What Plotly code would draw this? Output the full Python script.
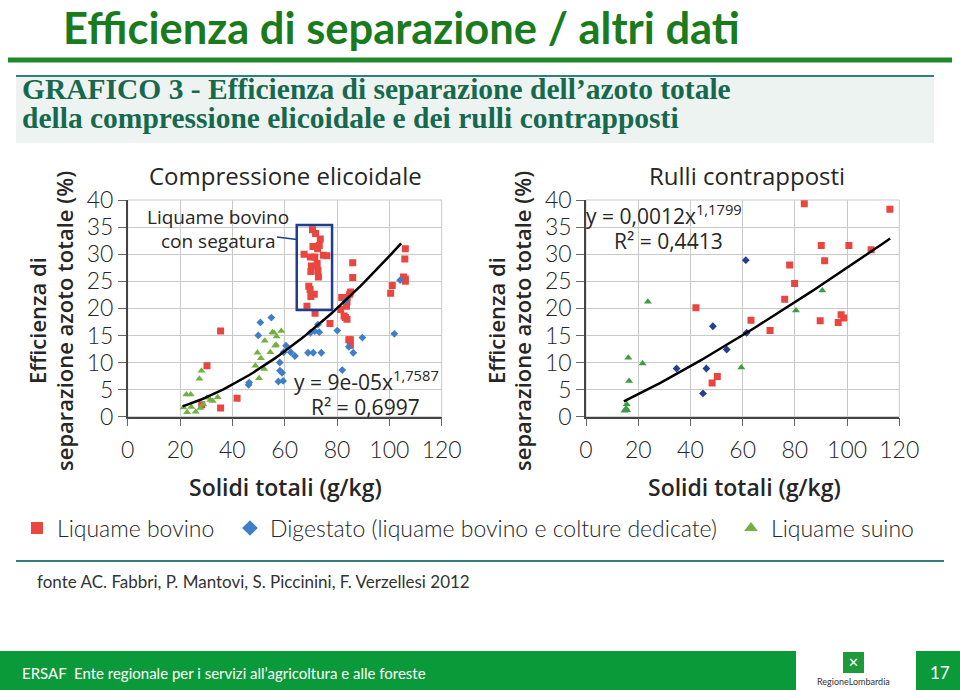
import plotly.graph_objects as go

# ---------------- data ----------------
# Left chart: Compressione elicoidale
L_bov_x = [70.6, 71.8, 73.6, 73.2, 70.8, 72.6, 67.4, 69.8, 71.5, 74.8, 76.1, 72.4, 70.2, 72.7, 70.0, 72.9, 69.2, 69.7,
           71.3, 70.0, 68.5, 71.6, 77.3,
           86.0, 86.0, 85.2, 84.8, 81.8, 83.8, 83.8, 83.6, 81.4, 82.7, 83.2, 83.8, 84.5, 85.1, 85.1,
           106.1, 105.9, 105.4, 106.1, 106.1, 101.1, 100.5, 35.5, 30.3, 41.8, 28.3, 35.5]
L_bov_y = [34.5, 33.8, 32.8, 31.6, 31.4, 31.0, 30.0, 29.5, 29.5, 29.8, 29.7, 28.3, 27.8, 27.0, 26.8, 25.8, 24.1, 23.5,
           22.6, 22.2, 20.4, 19.1, 17.2,
           28.4, 25.7, 23.0, 22.6, 22.0, 22.0, 21.2, 20.4, 19.8, 18.6, 18.3, 18.0, 14.2, 14.2, 13.2,
           31.0, 29.1, 25.8, 25.4, 25.0, 24.2, 22.8, 15.8, 9.4, 3.4, 2.2, 1.6]
L_dig_x = [54.9, 50.7, 49.9, 60.5, 59.6, 62.3, 63.9, 68.9, 70.9, 74.0, 58.1, 58.2, 59.0, 46.4, 46.2, 57.6, 59.4,
           69.8, 71.5, 73.2, 72.7, 80.1, 82.0, 83.3, 84.5, 86.2, 89.7, 101.9, 104.1]
L_dig_y = [18.3, 17.4, 15.0, 13.1, 11.9, 11.9, 11.2, 11.8, 11.8, 11.8, 10.0, 8.5, 8.1, 6.3, 5.9, 6.5, 6.6,
           15.5, 15.8, 15.6, 17.0, 15.9, 8.6, 21.4, 12.9, 11.8, 14.6, 15.3, 25.2]
L_sui_x = [55.9, 58.7, 56.9, 52.4, 56.4, 54.5, 49.6, 50.9, 48.8, 52.2, 50.2, 28.2, 27.4, 22.4, 24.1, 30.3, 31.6,
           34.4, 32.5, 28.9, 27.8, 21.3, 22.7, 26.0, 24.3, 55.3, 56.7]
L_sui_y = [15.5, 15.8, 14.8, 14.0, 13.1, 11.9, 11.8, 10.8, 9.4, 8.8, 7.1, 8.5, 7.0, 4.1, 4.1, 3.5, 3.1,
           3.6, 2.9, 2.3, 1.6, 1.7, 0.8, 0.9, 1.8, 15.6, 13.3]

# Right chart: Rulli contrapposti
R_bov_x = [83.6, 116.4, 90.1, 100.7, 109.2, 91.4, 78.0, 79.9, 76.1, 42.1, 63.2, 89.7, 97.7, 98.7, 96.6, 70.5, 50.3, 48.3]
R_bov_y = [39.3, 38.3, 31.6, 31.6, 30.8, 28.8, 28.0, 24.6, 21.7, 20.1, 17.8, 17.7, 18.8, 18.2, 17.4, 15.9, 7.4, 6.2]
R_dig_x = [61.2, 48.6, 61.5, 53.9, 34.7, 46.1, 44.8]
R_dig_y = [28.9, 16.7, 15.5, 12.4, 8.9, 8.9, 4.3]
R_sui_x = [23.7, 90.5, 80.4, 16.2, 21.7, 59.5, 16.5, 15.6, 15.4, 14.7, 15.7]
R_sui_y = [21.2, 23.3, 19.6, 10.9, 9.8, 9.1, 6.6, 2.3, 1.5, 1.1, 1.2]

# power-law trend lines as printed on the chart (fractions -> %)
L_fit_a, L_fit_b, L_fit_range = 9e-05, 1.7587, (21.0, 104.5)
R_fit_a, R_fit_b, R_fit_range = 0.0012, 1.1799, (14.5, 116.5)

series_names = ["Liquame bovino", "Digestato (liquame bovino e colture dedicate)", "Liquame suino"]
x_ticks = [0, 20, 40, 60, 80, 100, 120]
y_ticks = [0, 5, 10, 15, 20, 25, 30, 35, 40]

# ---------------- layout helpers ----------------
W, H = 960, 690
def px(x):
    return x / W
def py(y):
    return 1 - y / H

RED, BLUE_L, BLUE_R, GREEN_L, GREEN_R = "#e8463f", "#3f7fc8", "#22408f", "#72b043", "#3a9d3f"
TXT = "#262626"
FONT_LIGHT = dict(family="Lato, Open Sans, sans-serif", size=23, color=TXT, weight=300)

fig = go.Figure()

def fit_curve(a, b, rng, n=60):
    xs = [rng[0] + (rng[1] - rng[0]) * i / (n - 1) for i in range(n)]
    ys = [100 * a * x ** b for x in xs]
    return xs, ys

def add_panel(xa, ya, bx, by, dx, dy, sx, sy, blue, green, fit, show):
    fig.add_trace(go.Scatter(x=bx, y=by, mode="markers", name=series_names[0], xaxis=xa, yaxis=ya,
                             marker=dict(symbol="square", size=7, color=RED), showlegend=show, legend="legend"))
    fig.add_trace(go.Scatter(x=dx, y=dy, mode="markers", name=series_names[1], xaxis=xa, yaxis=ya,
                             marker=dict(symbol="diamond", size=6, color=blue), showlegend=show, legend="legend2"))
    fig.add_trace(go.Scatter(x=sx, y=sy, mode="markers", name=series_names[2], xaxis=xa, yaxis=ya,
                             marker=dict(symbol="triangle-up", size=7, color=green), showlegend=show, legend="legend3"))
    fx, fy = fit_curve(*fit)
    fig.add_trace(go.Scatter(x=fx, y=fy, mode="lines", xaxis=xa, yaxis=ya, showlegend=False,
                             line=dict(color="black", width=2.5), hoverinfo="skip"))

add_panel("x", "y", L_bov_x, L_bov_y, L_dig_x, L_dig_y, L_sui_x, L_sui_y, BLUE_L, GREEN_L,
          (L_fit_a, L_fit_b, L_fit_range), True)
add_panel("x2", "y2", R_bov_x, R_bov_y, R_dig_x, R_dig_y, R_sui_x, R_sui_y, BLUE_R, GREEN_R,
          (R_fit_a, R_fit_b, R_fit_range), False)

ax_common = dict(showgrid=True, gridcolor="#c9c9c9", gridwidth=1, zeroline=False, showline=True,
                 linecolor="#444", linewidth=1.5, ticks="outside", ticklen=8, tickcolor="#666",
                 tickfont=FONT_LIGHT, fixedrange=True, automargin=False)
ydom = [py(416.7), py(200)]
fig.update_layout(
    xaxis=dict(domain=[px(127.7), px(441.7)], range=[0, 120], tickvals=x_ticks, anchor="y",
               ticklabelstandoff=4, **ax_common),
    yaxis=dict(domain=ydom, range=[0, 40], tickvals=y_ticks, anchor="x", **ax_common),
    xaxis2=dict(domain=[px(586), px(899.3)], range=[0, 120], tickvals=x_ticks, anchor="y2",
                ticklabelstandoff=4, **ax_common),
    yaxis2=dict(domain=ydom, range=[0, 40], tickvals=y_ticks, anchor="x2", **ax_common),
)

# plot border (top/right grid frame)
for xr, yr in (("x domain", "y domain"), ("x2 domain", "y2 domain")):
    fig.add_shape(type="rect", xref=xr, yref=yr, x0=0, x1=1, y0=0, y1=1, line=dict(color="#c9c9c9", width=1),
                  layer="below")

# ---------------- page decoration ----------------
shapes = [
    dict(type="line", xref="paper", yref="paper", x0=px(8), x1=px(952), y0=py(60), y1=py(60),
         line=dict(color="#1f8a2a", width=5)),
    dict(type="rect", xref="paper", yref="paper", x0=px(16), x1=px(934), y0=py(143), y1=py(76),
         fillcolor="#edf3f0", line=dict(width=0), layer="below"),
    dict(type="line", xref="paper", yref="paper", x0=px(16), x1=px(934), y0=py(76), y1=py(76),
         line=dict(color="#2f7f7a", width=2)),
    dict(type="line", xref="paper", yref="paper", x0=px(16), x1=px(944), y0=py(561), y1=py(561),
         line=dict(color="#2f7f7a", width=2)),
    dict(type="rect", xref="paper", yref="paper", x0=0, x1=px(796), y0=0, y1=py(651),
         fillcolor="#0b9a3a", line=dict(width=0)),
    dict(type="rect", xref="paper", yref="paper", x0=px(916), x1=1, y0=0, y1=py(651),
         fillcolor="#0b9a3a", line=dict(width=0)),
    dict(type="rect", xref="paper", yref="paper", x0=px(843), x1=px(864), y0=py(673), y1=py(652),
         fillcolor="#1e9a3c", line=dict(width=0)),
]
shapes.append(dict(type="rect", xref="x", yref="y", x0=64.6, x1=78.1, y0=19.7, y1=35.4,
                   line=dict(color="#1f3d8f", width=2.5)))
shapes.append(dict(type="line", xref="paper", yref="paper", x0=px(277), x1=px(297), y0=py(237), y1=py(239.5),
                   line=dict(color="#1f3d8f", width=1.5)))
for s in shapes:
    fig.add_shape(**s)

OS = "Open Sans, sans-serif"
ann = []
ann.append(dict(text="Efficienza di separazione / altri dati", x=px(61), y=py(26.5), xanchor="left",
                yanchor="middle", font=dict(family="Lato, sans-serif", size=43.5, color="#1a7a1e", weight=700)))
SUB_FONT = dict(family="Liberation Serif, serif", size=29.5, color="#16694e", weight=700)
ann.append(dict(text="GRAFICO 3 - Efficienza di separazione dell’azoto totale",
                x=px(20), y=py(89), xanchor="left", yanchor="middle", font=SUB_FONT))
ann.append(dict(text="della compressione elicoidale e dei rulli contrapposti",
                x=px(20), y=py(118), xanchor="left", yanchor="middle", font=SUB_FONT))
for cx, title in ((285, "Compressione elicoidale"), (747, "Rulli contrapposti")):
    ann.append(dict(text=title, x=px(cx), y=py(176), xanchor="center", yanchor="middle",
                    font=dict(family=OS, size=24, color=TXT, weight=500)))
for cx in (285, 744):
    ann.append(dict(text="Solidi totali (g/kg)", x=px(cx), y=py(487), xanchor="center", yanchor="middle",
                    font=dict(family=OS, size=23, color=TXT, weight=600)))
YT_FONT = dict(family=OS, size=22, color=TXT, weight=600)
for cx1, cx2 in ((37, 64), (496, 522)):
    ann.append(dict(text="Efficienza di", x=px(cx1), y=py(321), textangle=-90,
                    xanchor="center", yanchor="middle", font=YT_FONT))
    ann.append(dict(text="separazione azoto totale (%)", x=px(cx2), y=py(321), textangle=-90,
                    xanchor="center", yanchor="middle", font=YT_FONT))
LB_FONT = dict(family=OS, size=19, color=TXT, weight=500)
ann.append(dict(text="Liquame bovino", x=px(218), y=py(217), xanchor="center", yanchor="middle", font=LB_FONT))
ann.append(dict(text="con segatura", x=px(218), y=py(241), xanchor="center", yanchor="middle", font=LB_FONT))
EQ_FONT = dict(family=OS, size=21, color=TXT, weight=500)
ann.append(dict(text="y = 9e-05x<sup>1,7587</sup>", x=px(366), y=py(380), xanchor="center",
                yanchor="middle", font=EQ_FONT))
ann.append(dict(text="R² = 0,6997", x=px(365), y=py(407), xanchor="center", yanchor="middle", font=EQ_FONT))
ann.append(dict(text="y = 0,0012x<sup>1,1799</sup>", x=px(664), y=py(214), xanchor="center",
                yanchor="middle", font=EQ_FONT))
ann.append(dict(text="R² = 0,4413", x=px(668), y=py(241), xanchor="center", yanchor="middle", font=EQ_FONT))
ann.append(dict(text="fonte AC. Fabbri, P. Mantovi, S. Piccinini, F. Verzellesi 2012", x=px(35), y=py(581),
                xanchor="left", yanchor="middle", font=dict(family="Lato, sans-serif", size=17, color="#333")))
ann.append(dict(text="ERSAF  Ente regionale per i servizi all’agricoltura e alle foreste", x=px(20), y=py(673),
                xanchor="left", yanchor="middle", font=dict(family="Lato, sans-serif", size=15, color="white")))
ann.append(dict(text="RegioneLombardia", x=px(853), y=py(681), xanchor="center", yanchor="middle",
                font=dict(family="Lato, sans-serif", size=9, color="#333")))
ann.append(dict(text="✕", x=px(853.5), y=py(662.5), xanchor="center", yanchor="middle",
                font=dict(family="DejaVu Sans", size=13, color="white")))
ann.append(dict(text="17", x=px(940), y=py(672), xanchor="center", yanchor="middle",
                font=dict(family="Lato, sans-serif", size=17, color="white")))
for a in ann:
    a.setdefault("xref", "paper")
    a.setdefault("yref", "paper")
    a["showarrow"] = False
    fig.add_annotation(**a)

leg_font = dict(family="Lato, sans-serif", size=23, color=TXT, weight=300)
leg_common = dict(orientation="h", yanchor="middle", y=py(528), xanchor="left", bgcolor="rgba(0,0,0,0)",
                  font=leg_font, itemsizing="constant", itemwidth=30)
fig.update_layout(
    width=W, height=H, margin=dict(l=0, r=0, t=0, b=0, pad=0, autoexpand=False), autosize=False,
    paper_bgcolor="white", plot_bgcolor="white",
    legend=dict(x=px(17), **leg_common),
    legend2=dict(x=px(230), **leg_common),
    legend3=dict(x=px(731), **leg_common),
    hovermode=False,
)

fig.write_html("out.html",
               post_script="document.body.style.margin='0';document.body.style.overflow='hidden';")
